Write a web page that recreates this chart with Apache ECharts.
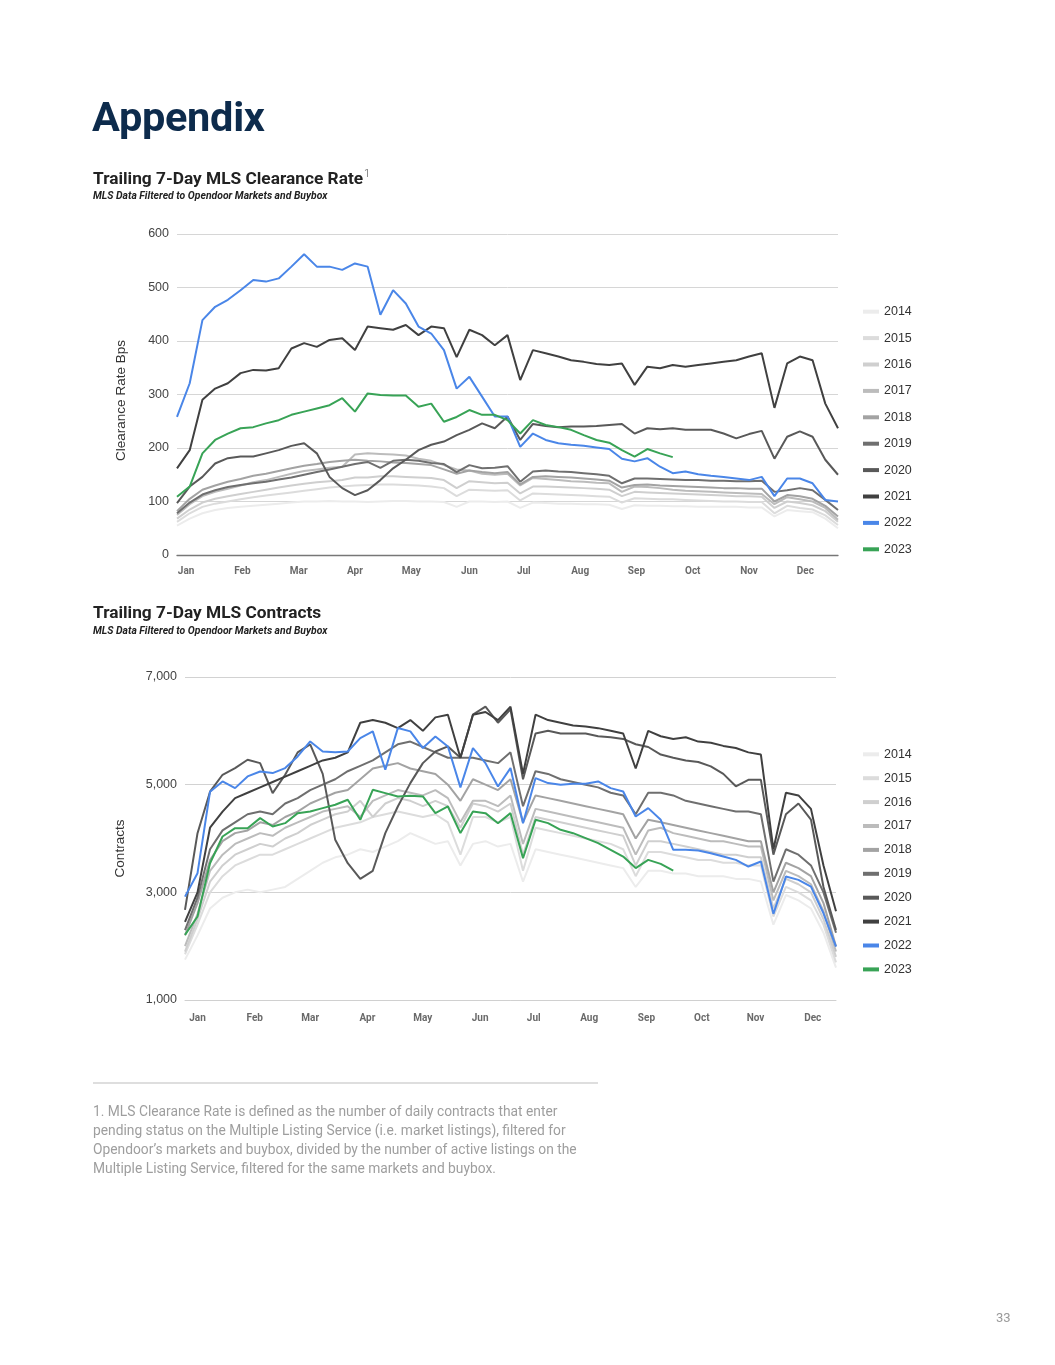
<!DOCTYPE html>
<html>
<head>
<meta charset="utf-8">
<script src="https://cdn.jsdelivr.net/npm/echarts@6/dist/echarts.min.js"></script>
<style>
  html, body { margin:0; padding:0; background:#fff; }
  #page { position:relative; width:1055px; height:1365px; overflow:hidden; }
  #chart { position:absolute; left:0; top:0; width:1055px; height:1365px; }
  .t { position:absolute; font-family:Roboto, "Liberation Sans", sans-serif; line-height:1; white-space:nowrap; z-index:2; }
</style>
</head>
<body>
<div id="page">
  <div id="chart"></div>
  <div class="t" style="left:92px;top:96px;font-size:41.5px;font-weight:700;color:#0d2b4c;letter-spacing:-0.3px;">Appendix</div>
  <div class="t" style="left:93px;top:169.6px;font-size:17.3px;font-weight:700;color:#222;">Trailing 7-Day MLS Clearance Rate<span style="font-size:11px;font-weight:300;color:#555;position:relative;top:-7px;margin-left:1px;">1</span></div>
  <div class="t" style="left:93px;top:190.5px;font-size:10.4px;font-weight:700;font-style:italic;color:#222;">MLS Data Filtered to Opendoor Markets and Buybox</div>
  <div class="t" style="left:93px;top:604.3px;font-size:17.3px;font-weight:700;color:#222;">Trailing 7-Day MLS Contracts</div>
  <div class="t" style="left:93px;top:625.5px;font-size:10.4px;font-weight:700;font-style:italic;color:#222;">MLS Data Filtered to Opendoor Markets and Buybox</div>
  <div style="position:absolute;left:93px;top:1082px;width:505px;height:2px;background:#dedede;"></div>
  <div class="t" style="left:93px;top:1101.5px;font-size:13.8px;line-height:19px;color:#9e9e9e;">1. MLS Clearance Rate is defined as the number of daily contracts that enter<br>pending status on the Multiple Listing Service (i.e. market listings), filtered for<br>Opendoor’s markets and buybox, divided by the number of active listings on the<br>Multiple Listing Service, filtered for the same markets and buybox.</div>
  <div class="t" style="left:996px;top:1311px;font-size:13px;color:#9a9a9a;">33</div>
</div>
<script>
// ---- shared x positions (day of year, weekly samples) ----
const days = [1,8,15,22,29,36,43,50,57,64,71,78,85,92,99,106,113,120,127,134,141,148,155,162,169,176,183,190,197,204,211,218,225,232,239,246,253,260,267,274,281,288,295,302,309,316,323,330,337,344,351,358,365];

const years = ['2014','2015','2016','2017','2018','2019','2020','2021','2022','2023'];
const monthLabels = ['Jan','Feb','Mar','Apr','May','Jun','Jul','Aug','Sep','Oct','Nov','Dec'];
const monthDays1 = [6,37,68,99,130,162,192,223,254,285,316,347];
const monthDays2 = [8,40,71,103,134,166,196,227,259,290,320,352];

// ---- Chart 1: Trailing 7-Day MLS Clearance Rate (bps) ----
const clear2014 = [55,68,78,84,88,90,92,94,96,98,100,100,101,100,100,99,100,101,101,100,100,99,90,100,100,99,100,88,98,97,96,96,95,95,94,86,93,92,92,91,91,90,90,90,90,89,89,72,84,82,80,68,50];
const clear2015 = [62,78,90,96,100,104,108,111,114,117,120,123,126,128,130,131,132,132,131,130,128,125,110,122,121,120,121,102,115,114,113,112,111,110,109,98,106,105,104,104,103,102,101,100,100,99,99,78,92,88,85,74,56];
const clear2016 = [68,85,98,105,110,114,118,122,126,130,133,136,138,140,145,145,147,147,146,145,144,140,125,138,136,134,135,115,128,128,127,126,125,124,122,110,118,117,116,115,114,113,112,111,110,110,109,88,100,97,93,82,62];
const clear2017 = [75,95,110,118,124,130,136,140,146,152,157,160,163,165,188,190,189,188,186,180,176,168,160,158,152,150,152,130,144,142,140,138,137,135,134,118,128,127,125,122,120,119,118,117,116,115,114,95,108,104,100,88,66];
const clear2018 = [82,105,122,130,137,142,148,152,157,162,167,170,174,176,178,176,175,173,172,170,168,160,152,158,155,153,155,132,146,147,146,145,143,141,139,126,131,132,130,129,128,127,126,125,125,124,124,100,112,110,105,92,72];
const clear2019 = [78,98,113,121,127,131,134,137,141,145,150,155,160,165,170,174,163,176,178,176,172,170,155,168,162,163,166,137,156,158,156,155,153,151,148,134,143,143,142,141,140,140,139,139,138,138,139,118,121,125,121,103,84];
const clear2020 = [97,128,146,171,181,184,184,190,196,204,209,190,146,125,112,121,140,162,178,196,206,212,224,234,246,237,259,215,245,241,239,240,240,241,243,245,227,237,235,237,234,234,234,227,218,226,232,180,221,231,221,178,150];
const clear2021 = [162,196,290,311,321,340,346,345,349,386,396,389,402,405,383,427,424,421,430,411,427,424,370,421,411,392,411,327,383,377,371,364,361,357,355,358,318,352,349,355,352,355,358,361,364,371,377,275,358,371,364,283,237];
const clear2022 = [258,321,439,464,477,495,514,511,517,539,562,539,539,533,545,539,449,495,470,427,414,383,311,333,296,259,259,202,227,215,209,206,204,201,198,180,175,181,165,153,156,151,148,146,143,140,146,110,143,143,134,103,100];
const clear2023 = [109,128,190,215,227,237,239,246,252,262,268,274,280,293,268,302,299,298,298,277,283,249,258,271,262,262,252,227,252,243,239,234,224,215,210,196,184,198,190,183];

// ---- Chart 2: Trailing 7-Day MLS Contracts ----
const cont2014 = [1750,2200,2700,2900,3000,3050,3000,3050,3100,3250,3400,3550,3650,3700,3800,3750,3850,3950,4100,4000,3900,3950,3500,3900,3950,3850,3900,3200,3800,3750,3700,3650,3600,3550,3500,3450,3100,3400,3400,3350,3350,3300,3300,3300,3250,3250,3200,2400,2950,2850,2700,2250,1600];
const cont2015 = [1850,2400,3000,3300,3500,3600,3700,3700,3800,3900,4000,4100,4200,4250,4300,4400,4450,4500,4450,4400,4450,4300,3700,4400,4400,4300,4400,3400,4200,4150,4100,4050,4000,3950,3900,3800,3300,3750,3750,3700,3650,3600,3600,3550,3550,3500,3500,2550,3100,3000,2850,2400,1700];
const cont2016 = [1900,2500,3200,3500,3700,3800,3900,3850,4000,4100,4250,4350,4450,4500,4700,4400,4650,4750,4700,4600,4700,4600,4200,4650,4600,4500,4650,3700,4400,4350,4300,4250,4200,4150,4100,4050,3500,3950,3950,3900,3850,3800,3750,3700,3700,3650,3650,2700,3250,3150,3000,2500,1800];
const cont2017 = [2000,2600,3400,3700,3900,4000,4100,4050,4200,4300,4400,4500,4550,4600,4400,4700,4800,4900,4850,4800,4900,4750,4300,4700,4700,4600,4800,3900,4550,4500,4450,4400,4350,4300,4250,4200,3700,4150,4200,4100,4050,4000,3950,3950,3900,3850,3850,2850,3400,3300,3150,2650,1900];
const cont2018 = [2200,2800,3600,3950,4100,4150,4300,4250,4400,4500,4650,4750,4850,4900,5100,5300,5350,5400,5300,5250,5200,5000,4700,5100,5000,4900,5100,4300,4800,4750,4700,4650,4600,4550,4500,4450,4000,4350,4300,4250,4200,4150,4100,4050,4000,3950,3950,3000,3550,3450,3300,2800,2000];
const cont2019 = [2300,2900,3800,4150,4300,4450,4500,4450,4650,4750,4900,5000,5100,5250,5350,5450,5600,5750,5800,5700,5600,5500,5500,5500,5450,5400,5600,4600,5250,5200,5100,5050,5000,4950,4850,4800,4450,4850,4850,4800,4700,4650,4600,4550,4500,4500,4450,3200,3800,3700,3500,3000,2250];
const cont2020 = [2673,4099,4870,5184,5308,5463,5400,4843,5184,5600,5750,5200,3975,3541,3250,3400,4099,4595,5029,5400,5617,5710,5500,6300,6450,6150,6400,5100,5950,6000,5950,5950,5950,5900,5880,5850,5750,5700,5560,5500,5450,5420,5340,5200,4970,5090,5090,3700,4450,4650,4350,3100,2300];
const cont2021 = [2450,3000,4200,4500,4750,4850,4950,5050,5150,5250,5350,5450,5500,5600,6150,6200,6150,6050,6200,6000,6250,6300,5500,6300,6350,6200,6450,5200,6300,6200,6150,6100,6080,6050,6000,5950,5300,6000,5900,5850,5880,5800,5780,5720,5680,5600,5560,3800,4850,4800,4550,3500,2650];
const cont2022 = [2920,3355,4870,5060,4936,5153,5245,5215,5308,5525,5803,5617,5600,5617,5865,5989,5276,6051,5990,5680,5896,5710,4950,5680,5400,4967,5308,4285,5122,5029,4998,5016,5016,5060,4936,4874,4409,4564,4347,3789,3789,3777,3727,3665,3603,3479,3572,2600,3293,3231,3107,2611,1992];
const cont2023 = [2209,2550,3541,4037,4192,4192,4378,4223,4285,4471,4502,4564,4626,4719,4347,4905,4843,4781,4793,4781,4471,4595,4100,4502,4471,4285,4471,3634,4347,4285,4161,4099,4006,3913,3789,3665,3450,3603,3529,3405];

const clearSeries = [clear2014,clear2015,clear2016,clear2017,clear2018,clear2019,clear2020,clear2021,clear2022,clear2023];
const contSeries = [cont2014,cont2015,cont2016,cont2017,cont2018,cont2019,cont2020,cont2021,cont2022,cont2023];
const colors = ['#ececec','#dcdcdc','#cfcfcf','#bcbcbc','#a3a3a3','#6f6f6f','#595959','#404040','#4a86e8','#38a356'];

function pairs(vals){ return vals.map((v,i)=>[days[i], v]); }

const chart = echarts.init(document.getElementById('chart'), null, {renderer:'canvas', width:1055, height:1365});

const series = [];
years.forEach((y,i)=>{
  series.push({name:y, type:'line', xAxisIndex:0, yAxisIndex:0, data:pairs(clearSeries[i]),
    showSymbol:false, symbol:'none', lineStyle:{width:2, color:colors[i]}, itemStyle:{color:colors[i]},
    emphasis:{disabled:true}, z:2+i});
});
years.forEach((y,i)=>{
  series.push({name:y, type:'line', xAxisIndex:1, yAxisIndex:1, data:pairs(contSeries[i]),
    showSymbol:false, symbol:'none', lineStyle:{width:2, color:colors[i]}, itemStyle:{color:colors[i]},
    emphasis:{disabled:true}, z:2+i});
});

function monthAxis(grid, ticks, margin, lineColor, lineWidth){
  return {
    type:'value', gridIndex:grid, min:1, max:365,
    splitLine:{show:false},
    axisTick:{show:false},
    axisLine:{show:true, lineStyle:{color:lineColor, width:lineWidth}},
    axisLabel:{
      customValues:ticks, margin:margin,
      fontFamily:'Roboto', fontWeight:'bold', fontSize:10, color:'#6a6a6a',
      formatter:function(v){ const k = ticks.indexOf(Math.round(v)); return k>=0 ? monthLabels[k] : ''; }
    }
  };
}

const legendCommon = {
  orient:'vertical', icon:'rect', itemWidth:16, itemHeight:4,
  textStyle:{fontFamily:'"Liberation Sans", Arial, sans-serif', fontSize:12.5, color:'#333', lineHeight:14},
  data:years, selectedMode:false
};

chart.setOption({
  animation:false,
  backgroundColor:'transparent',
  grid:[
    {left:177, top:234, width:661, height:321, containLabel:false},
    {left:185, top:677, width:651, height:323, containLabel:false}
  ],
  xAxis:[
    monthAxis(0, monthDays1, 11.5, '#777', 1.3),
    monthAxis(1, monthDays2, 13.5, '#d0d0d0', 1)
  ],
  yAxis:[
    {type:'value', gridIndex:0, min:0, max:600, interval:100,
     name:'Clearance Rate Bps', nameLocation:'middle', nameGap:49,
     nameTextStyle:{fontFamily:'"Liberation Sans", Arial, sans-serif', fontSize:13.5, color:'#333', padding:[0,12,0,0]},
     axisLine:{show:false}, axisTick:{show:false},
     axisLabel:{margin:8, fontFamily:'"Liberation Sans", Arial, sans-serif', fontSize:12.5, color:'#444'},
     splitLine:{lineStyle:{color:'#d6d6d6', width:1}}},
    {type:'value', gridIndex:1, min:1000, max:7000, interval:2000,
     name:'Contracts', nameLocation:'middle', nameGap:58,
     nameTextStyle:{fontFamily:'"Liberation Sans", Arial, sans-serif', fontSize:13.5, color:'#333', padding:[0,20,0,0]},
     axisLine:{show:false}, axisTick:{show:false},
     axisLabel:{margin:8, fontFamily:'"Liberation Sans", Arial, sans-serif', fontSize:12.5, color:'#444',
       formatter:function(v){ return v.toLocaleString('en-US'); }},
     splitLine:{lineStyle:{color:'#d2d2d2', width:1}}}
  ],
  legend:[
    Object.assign({}, legendCommon, {left:858, top:299.7, itemGap:12.4}),
    Object.assign({}, legendCommon, {left:858, top:742.3, itemGap:9.9})
  ],
  series:series
});
</script>
</body>
</html>
